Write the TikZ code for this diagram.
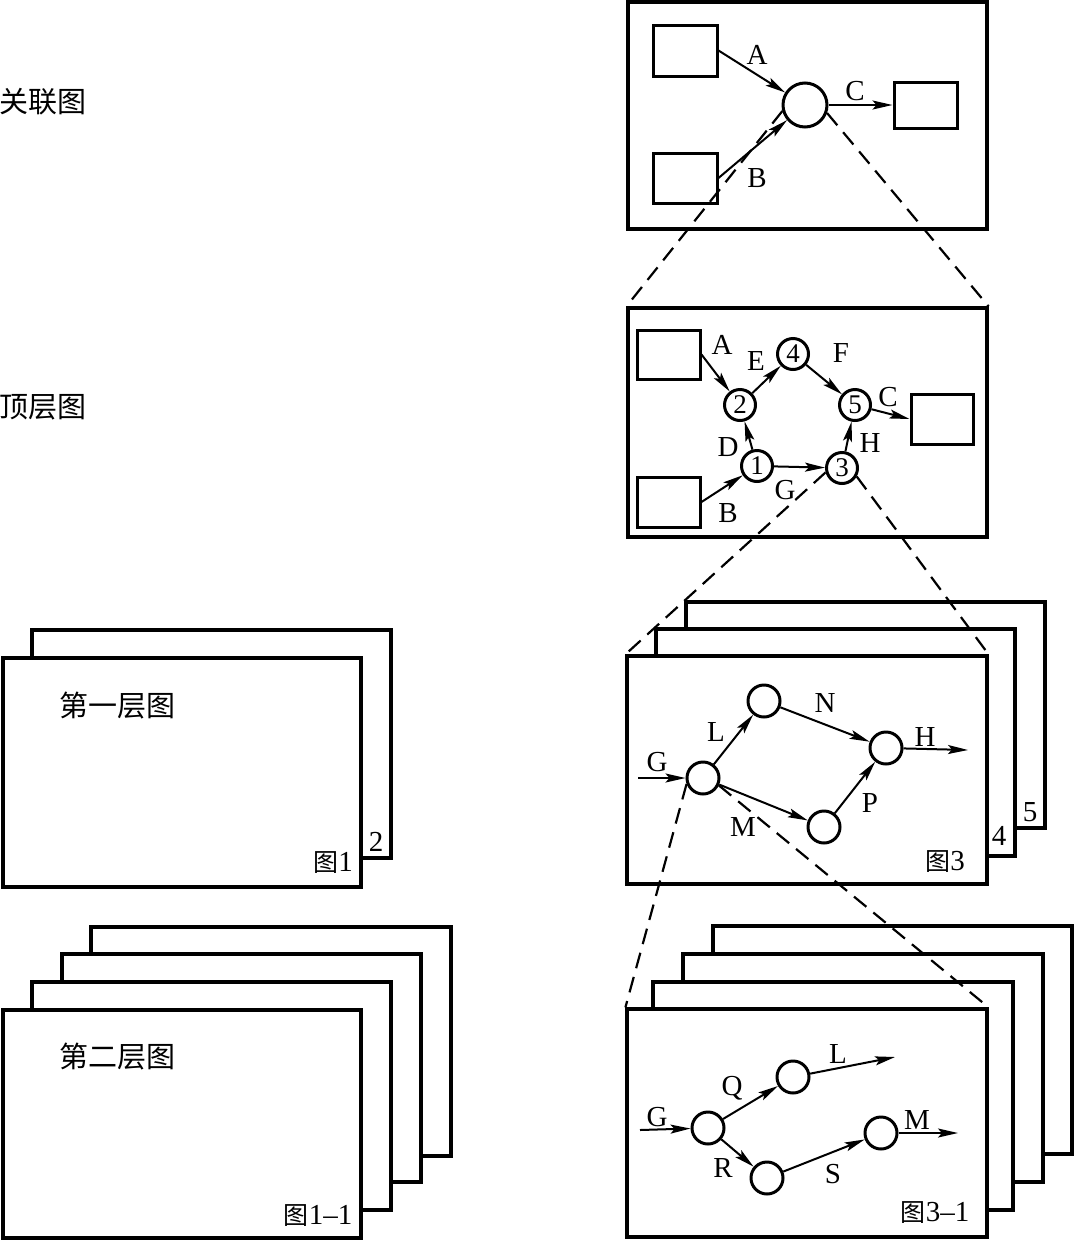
\documentclass[tikz,border=0pt]{standalone}
\usepackage{fontspec}
\setmainfont{Liberation Serif}
\newfontfamily\cjk{Noto Sans CJK SC}
\usetikzlibrary{arrows.meta,fit}
\newcommand\tu{\cjk\fontsize{25}{28}\selectfont 图}
\begin{document}
\begin{tikzpicture}[x=1pt,y=-1pt,
  frame/.style={draw, line width=3.2pt, fill=white, inner sep=0pt},
  sbox/.style={draw, line width=3pt, inner sep=0pt},
  circ/.style={circle, draw, line width=3pt, inner sep=0pt, fill=white, font=\fontsize{27}{29}\selectfont},
  arr/.style={line width=2pt, -{Stealth[length=20pt,width=9pt,inset=4pt]}},
  dashline/.style={line width=2.2pt, dash pattern=on 16pt off 9pt},
  lbl/.style={font=\fontsize{29}{31}\selectfont, inner sep=0pt},
  cn/.style={font=\cjk\fontsize{29}{32}\selectfont, inner sep=0pt},
  tag/.style={font=\fontsize{29}{31}\selectfont, inner sep=0pt}
]
\useasboundingbox (0,0) rectangle (1074,1240);

% side labels
\node[cn] (lab1) at (43,102) {关联图};
\node[cn] (lab2) at (43,407) {顶层图};

% ---------- top box (context diagram)
\node[frame, fit={(628,2)(987,229)}] (top) {};
\node[sbox, fit={(653,25)(717,76)}] (t1) {};
\node[sbox, fit={(653,153)(717,203)}] (t2) {};
\node[circ, minimum size=44pt] (tc) at (805,105) {};
\node[sbox, fit={(894,82)(957,128)}] (t3) {};
\draw[arr] (t1.east) -- (tc);
\draw[arr] (t2.east) -- (tc);
\draw[arr] (tc) -- (t3.west);
\node[lbl] (tA) at (757,55) {A};
\node[lbl] (tB) at (757,178) {B};
\node[lbl] (tC) at (855,91) {C};

% ---------- top level diagram
\node[frame, fit={(628,308)(987,537)}] (sec) {};
\node[sbox, fit={(637,330)(700,379)}] (sA) {};
\node[sbox, fit={(637,477)(700,527)}] (sB) {};
\node[sbox, fit={(911,394)(973,444)}] (sC) {};
\node[circ, minimum size=31pt] (n4) at (793,354) {4};
\node[circ, minimum size=31pt] (n2) at (740,405) {2};
\node[circ, minimum size=31pt] (n5) at (855,405) {5};
\node[circ, minimum size=31pt] (n1) at (757,466) {1};
\node[circ, minimum size=31pt] (n3) at (842,468) {3};
\draw[arr] (sA.east) -- (n2);
\draw[arr] (sB.east) -- (n1);
\draw[arr] (n1) -- (n2);
\draw[arr] (n2) -- (n4);
\draw[arr] (n4) -- (n5);
\draw[arr] (n1) -- (n3);
\draw[arr] (n3) -- (n5);
\draw[arr] (n5) -- (sC.west);
\node[lbl] (sLA) at (722,345) {A};
\node[lbl] (sLE) at (756,361) {E};
\node[lbl] (sLF) at (841,353) {F};
\node[lbl] (sLC) at (888,397) {C};
\node[lbl] (sLD) at (728,447) {D};
\node[lbl] (sLH) at (870,443) {H};
\node[lbl] (sLG) at (785,490) {G};
\node[lbl] (sLB) at (728,513) {B};

% ---------- figure 3 stack
\node[frame, fit={(686,602)(1045,828)}] (f5) {};
\node[frame, fit={(656,629)(1015,856)}] (f4) {};
\node[frame, fit={(627,656)(987,884)}] (f3) {};
\node[tag] (f5n) at (1030,812) {5};
\node[tag] (f4n) at (999,836) {4};
\node[tag] (f3n) at (945,862) {{\tu}3};
\node[circ, minimum size=32pt] (g1) at (703,778) {};
\node[circ, minimum size=32pt] (g2) at (764,701) {};
\node[circ, minimum size=32pt] (g3) at (886,748) {};
\node[circ, minimum size=32pt] (g4) at (824,827) {};
\coordinate (gin) at (638,778);
\coordinate (gout) at (968,750);
\draw[arr] (gin) -- (g1);
\draw[arr] (g1) -- (g2);
\draw[arr] (g2) -- (g3);
\draw[arr] (g1) -- (g4);
\draw[arr] (g4) -- (g3);
\draw[arr] (g3) -- (gout);
\node[lbl] (gG) at (657,762) {G};
\node[lbl] (gL) at (716,732) {L};
\node[lbl] (gN) at (825,703) {N};
\node[lbl] (gH) at (925,737) {H};
\node[lbl] (gP) at (870,803) {P};
\node[lbl] (gM) at (743,827) {M};

% ---------- figure 3-1 stack
\node[frame, fit={(713,926)(1072,1154)}] (h4f) {};
\node[frame, fit={(683,954)(1043,1182)}] (h3f) {};
\node[frame, fit={(653,982)(1013,1210)}] (h2f) {};
\node[frame, fit={(627,1009)(987,1237)}] (h1f) {};
\node[tag] (h1n) at (935,1213) {{\tu}3–1};
\node[circ, minimum size=32pt] (h1) at (708,1128) {};
\node[circ, minimum size=32pt] (h2) at (793,1077) {};
\node[circ, minimum size=32pt] (h3) at (767,1178) {};
\node[circ, minimum size=32pt] (h4) at (881,1133) {};
\coordinate (hin) at (640,1130);
\coordinate (hL) at (895,1057);
\coordinate (hM) at (958,1133);
\draw[arr] (hin) -- (h1);
\draw[arr] (h1) -- (h2);
\draw[arr] (h1) -- (h3);
\draw[arr] (h3) -- (h4);
\draw[arr] (h2) -- (hL);
\draw[arr] (h4) -- (hM);
\node[lbl] (hG) at (657,1117) {G};
\node[lbl] (hQ) at (732,1088) {Q};
\node[lbl] (hLl) at (838,1054) {L};
\node[lbl] (hR) at (723,1168) {R};
\node[lbl] (hS) at (833,1174) {S};
\node[lbl] (hMl) at (917,1120) {M};

% ---------- left: figure 1 stack
\node[frame, fit={(32,630)(391,858)}] (p2) {};
\node[frame, fit={(3,658)(361,887)}] (p1) {};
\node[tag] (p2n) at (376,842) {2};
\node[tag] (p1n) at (333,863) {{\tu}1};
\node[cn] (p1t) at (117,706) {第一层图};

% ---------- left: figure 1-1 stack
\node[frame, fit={(91,927)(451,1156)}] (q4) {};
\node[frame, fit={(62,954)(421,1182)}] (q3) {};
\node[frame, fit={(32,982)(391,1210)}] (q2) {};
\node[frame, fit={(3,1010)(361,1238)}] (q1) {};
\node[tag] (q1n) at (318,1216) {{\tu}1–1};
\node[cn] (q1t) at (117,1057) {第二层图};

% ---------- dashed zoom lines
\draw[dashline] (tc.195) -- (sec.north west);
\draw[dashline] (tc.-20) -- (sec.north east);
\draw[dashline] (n3.195) -- (f3.north west);
\draw[dashline] (n3.-30) -- (f3.north east);
\draw[dashline] (g1.200) -- (h1f.north west);
\draw[dashline] (g1.-25) -- (h1f.north east);
\end{tikzpicture}
\end{document}
